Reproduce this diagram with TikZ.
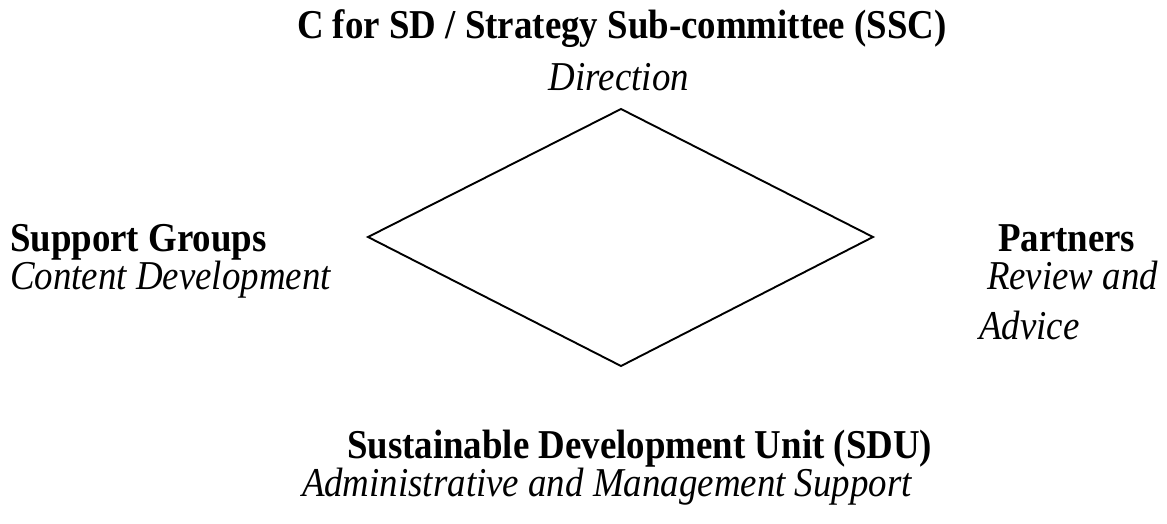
\documentclass[tikz,border=0pt]{standalone}
\usepackage{fontspec}
\setmainfont{Liberation Serif}[FakeStretch=0.9]
\begin{document}
\begin{tikzpicture}[x=1pt,y=-1pt,
  lbl/.style={inner sep=0pt,outer sep=0pt,anchor=base west,font=\fontsize{41}{48}\selectfont},
  head/.style={lbl,font=\fontsize{41}{48}\selectfont\bfseries},
  role/.style={lbl,font=\fontsize{41}{48}\selectfont\itshape},
  frame/.style={line width=1.9pt,line join=miter}]
\useasboundingbox (0,0) rectangle (1167,523);
\fill[white] (0,0) rectangle (1167,523);
% diamond
\coordinate (dt) at (621,109);
\coordinate (dl) at (368,237);
\coordinate (dr) at (873,237);
\coordinate (db) at (621,366);
\draw[frame] (dt) -- (dr) -- (db) -- (dl) -- cycle;
% labels
\node[head] (ssc) at (297,38) {C for SD / Strategy Sub-committee (SSC)};
\node[role,anchor=base] (dir) at (619,90) {Direction};
\node[head] (sg) at (10,251) {Support Groups};
\node[role] (cd) at (10,289) {Content Development};
\node[head] (pa) at (998,251) {Partners};
\node[role] (ra) at (987,289) {Review and};
\node[role] (adv) at (979,339) {Advice};
\node[head] (sdu) at (347,458) {Sustainable Development Unit (SDU)};
\node[role] (ams) at (302,496) {Administrative and Management Support};
\end{tikzpicture}
\end{document}
